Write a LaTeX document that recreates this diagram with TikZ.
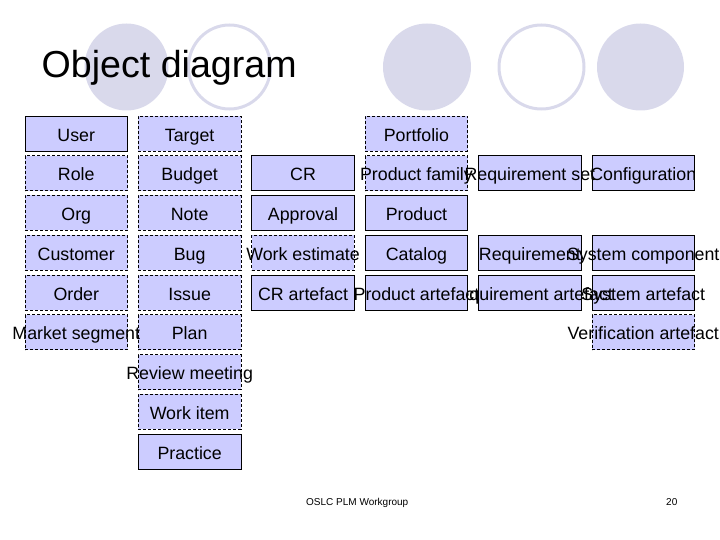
\documentclass[tikz,border=0pt]{standalone}
\usepackage{fontspec}
\setmainfont{Liberation Sans}
\usepackage{tikz}
\usetikzlibrary{positioning}
\definecolor{objfill}{HTML}{CCCCFF}
\definecolor{dotlav}{HTML}{D9D9EB}

% col/row/name/style/text
\def\objlist{0/0/user/realbox/User, 0/1/role/wishbox/Role, 0/2/org/wishbox/Org,
  0/3/customer/wishbox/Customer, 0/4/order/wishbox/Order, 0/5/market/wishbox/Market segment,
  1/0/target/wishbox/Target, 1/1/budget/wishbox/Budget, 1/2/note/wishbox/Note,
  1/3/bug/wishbox/Bug, 1/4/issue/wishbox/Issue, 1/5/plan/wishbox/Plan,
  1/6/review/wishbox/Review meeting, 1/7/workitem/wishbox/Work item, 1/8/practice/realbox/Practice,
  2/1/cr/realbox/CR, 2/2/approval/realbox/Approval, 2/3/estimate/wishbox/Work estimate,
  2/4/crart/realbox/CR artefact,
  3/0/portfolio/wishbox/Portfolio, 3/1/family/wishbox/Product family, 3/2/product/realbox/Product,
  3/3/catalog/realbox/Catalog,
  4/1/reqset/realbox/Requirement set, 4/3/req/realbox/Requirement, 4/4/reqart/realbox/Requirement artefact,
  5/1/config/realbox/Configuration, 5/3/syscomp/realbox/System component,
  5/4/sysart/realbox/System artefact, 5/5/verart/wishbox/Verification artefact}

\begin{document}
\begin{tikzpicture}[x=1pt,y=-1pt,
      realbox/.style={rectangle,draw=black,line width=0.8pt,fill=objfill,
        minimum width=102.5pt,minimum height=35pt,inner sep=0pt},
      wishbox/.style={realbox,dash pattern=on 3pt off 2pt},
      lbl/.style={inner sep=0pt,anchor=base,font=\fontsize{17.8}{20}\selectfont},
      dot/.style={fill=dotlav},
      ring/.style={draw=dotlav,line width=3pt}]
    \useasboundingbox (0,0) rectangle (720,540);
    % circles behind the title
    \fill[dot] (126.5,67) ellipse (42 and 43.5);
    \draw[ring] (229.5,67) ellipse (41 and 42);
    \fill[dot] (427,67) ellipse (44 and 43.5);
    \draw[ring] (541.5,67) ellipse (42.5 and 42);
    \fill[dot] (640.5,67) ellipse (43.5 and 43.5);
    \node[inner sep=0pt,anchor=base west,font=\fontsize{37.6}{40}\selectfont] (title) at (41.5,77.5) {Object diagram};
    % boxes first, then the names on top
    \foreach \c/\r/\nm/\sty/\txt in \objlist {
      \node[\sty] (\nm) at ({76.25+113.4*\c},{133.5+39.75*\r}) {};
    }
    \foreach \c/\r/\nm/\sty/\txt in \objlist {
      \node[lbl] (\nm-t) at ([yshift=10.3pt]\nm.south) {\txt};
    }
    % this one sits over the start of its neighbour's name
    \node[realbox] (prodart) at ({76.25+113.4*3},{133.5+39.75*4}) {};
    \node[lbl] (prodart-t) at ([yshift=10.3pt]prodart.south) {Product artefact};
    \node[inner sep=0pt,anchor=base west,font=\fontsize{10}{12}\selectfont] (footer) at (306,505.5) {OSLC PLM Workgroup};
    \node[inner sep=0pt,anchor=base west,font=\fontsize{10}{12}\selectfont] (pageno) at (666,505.5) {20};
  \end{tikzpicture}
\end{document}
